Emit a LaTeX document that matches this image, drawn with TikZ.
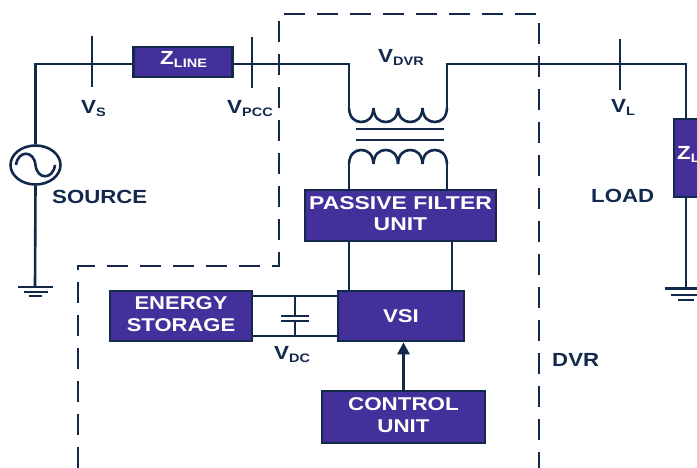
\documentclass[tikz,border=0pt]{standalone}
\usepackage{fontspec}
\setmainfont{Liberation Sans}
\usetikzlibrary{arrows.meta,shapes.geometric}
\definecolor{navy}{HTML}{12294B}
\definecolor{violet}{HTML}{44309A}
\newcommand{\boxtext}[2][1.23]{\raisebox{3pt}{\scalebox{#1}[1]{\fontsize{18.5}{21.5}\selectfont\bfseries\begin{tabular}{@{}c@{}}#2\end{tabular}}}}
\newcommand{\symb}[2]{\scalebox{1.18}[1]{\bfseries\fontsize{19}{19}\selectfont #1\raisebox{-3pt}{\fontsize{12.3}{12.3}\selectfont #2}}}
\newcommand{\plain}[1]{\scalebox{1.17}[1]{\bfseries\fontsize{19}{19}\selectfont #1}}
\tikzset{
  x=1pt,y=-1pt,
  wire/.style={draw=navy,line width=2.6pt},
  thin wire/.style={draw=navy,line width=2.1pt},
  unit/.style={draw=navy,line width=2.8pt,fill=violet,text=white,inner sep=0pt,align=center},
  lab/.style={text=navy,inner sep=0pt,anchor=base west},
  whitelab/.style={text=white,inner sep=0pt,anchor=base west},
  border/.style={draw=navy,line width=2.7pt,dash pattern=on 21pt off 12pt},
}
\begin{document}
\begin{tikzpicture}
\useasboundingbox (0,0) rectangle (697,468);
\clip (0,0) rectangle (697,468);
% named points
\coordinate (corner) at (35,64);
\coordinate (pri L) at (349,64);
\coordinate (pri R) at (447,64);
\coordinate (corner R) at (686,64);
\coordinate (gnd L) at (35,287);
\coordinate (gnd R) at (686,288);
\coordinate (coil1 L) at (349,108);
\coordinate (coil1 R) at (447,108);
\coordinate (coil2 L) at (349,164);
\coordinate (coil2 R) at (447,164);
% boxes
\node[unit,minimum width=98.5pt,minimum height=30pt] (zline) at (183,62) {};
\node[unit,minimum width=46pt,minimum height=78pt] (zload) at (697,158) {};
\node[unit,minimum width=191pt,minimum height=51pt] (filter) at (400.5,215.5) {\boxtext[1.24]{PASSIVE FILTER\\UNIT}};
\node[unit,minimum width=126pt,minimum height=50pt] (vsi) at (401,316) {\scalebox{1.2}[1]{\fontsize{18.5}{18.5}\selectfont\bfseries VSI}};
\node[unit,minimum width=142pt,minimum height=50pt] (storage) at (181,316) {\boxtext[1.19]{ENERGY\\STORAGE}};
\node[unit,minimum width=163pt,minimum height=52pt] (control) at (403.5,417) {\boxtext[1.21]{CONTROL\\UNIT}};
% source
\node[draw=navy,line width=2.6pt,ellipse,minimum width=50pt,minimum height=39pt,inner sep=0pt] (src) at (35.5,165) {};
\draw[wire] (16,165) .. controls (18,150) and (34,150) .. (35.5,165) .. controls (37,180) and (53,180) .. (55,165);
% main wiring
\draw[wire] (src.north) -- (src.north |- corner) -- (zline.west |- corner);
\draw[wire] (zline.east |- corner) -- (pri L) -- (coil1 L);
\draw[wire] (coil1 R) -- (pri R) -- (corner R) -- (zload.north -| corner R);
\draw[wire] (src.south) -- (gnd L);
\draw[wire] (zload.south -| corner R) -- (gnd R);
% measuring ticks
\foreach \nm/\xx/\ya/\yb in {vs/92/36/87, vpcc/252/37/88, vl/620/39/90}{
  \coordinate (\nm a) at (\xx,\ya);
  \coordinate (\nm b) at (\xx,\yb);
  \draw[wire] (\nm a) -- (\nm b);
}
% transformer
\foreach \s in {0,24.5,49,73.5}{
  \draw[wire] (349+\s,108) .. controls (349.5+\s,118) and (355+\s,122) .. (361.25+\s,122) .. controls (367.5+\s,122) and (373+\s,118) .. (373.5+\s,108);
  \draw[wire] (349+\s,164) .. controls (349.5+\s,154) and (355+\s,150) .. (361.25+\s,150) .. controls (367.5+\s,150) and (373+\s,154) .. (373.5+\s,164);
}
\coordinate (core1 a) at (356,129);
\coordinate (core1 b) at (444,129);
\coordinate (core2 a) at (356,140);
\coordinate (core2 b) at (444,140);
\draw[wire] (core1 a) -- (core1 b);
\draw[wire] (core2 a) -- (core2 b);
\draw[wire] (coil2 L) -- (coil2 L |- filter.north);
\draw[wire] (coil2 R) -- (coil2 R |- filter.north);
% filter to VSI
\coordinate (f1) at (349,241);
\coordinate (f2) at (452,241);
\draw[wire] (f1) -- (f1 |- vsi.north);
\draw[wire] (f2) -- (f2 |- vsi.north);
% DC link
\coordinate (st top) at (252,296);
\coordinate (st bot) at (252,336);
\coordinate (vsi top) at (338,296);
\coordinate (vsi bot) at (338,336);
\coordinate (cap top) at (295,296);
\coordinate (cap bot) at (295,336);
\coordinate (plate1) at (295,316);
\coordinate (plate2) at (295,321);
\draw[thin wire] (st top) -- (vsi top);
\draw[thin wire] (st bot) -- (vsi bot);
\draw[thin wire] (cap top) -- (plate1);
\draw[thin wire] (plate2) -- (cap bot);
\draw[thin wire] (281,316) -- (309,316);
\draw[thin wire] (281,321) -- (309,321);
% control arrow
\draw[wire,line width=2.8pt,-{Triangle[length=12pt,width=12pt]}] (control.north) -- (control.north |- vsi.south);
% grounds
\draw[thin wire] (18,287) -- (53,287);
\draw[thin wire] (24,292) -- (48,292);
\draw[thin wire] (29,296) -- (42,296);
\draw[thin wire] (665,288.5) -- (707,288.5);
\draw[thin wire] (671,295) -- (701,295);
\draw[thin wire] (678,300) -- (694,300);
% DVR boundary
\draw[border] (78,468) -- (78,266) -- (279,266) -- (279,14) -- (539,14) -- (539,468);
% labels
\node[whitelab] (zl1) at (160,65) {\scalebox{1.18}[1]{\bfseries\fontsize{19}{19}\selectfont Z\raisebox{-3pt}{\fontsize{12.3}{12.3}\selectfont LINE}}};
\node[whitelab] (zl2) at (677,160) {\scalebox{1.18}[1]{\bfseries\fontsize{19}{19}\selectfont Z\raisebox{-3pt}{\fontsize{12.3}{12.3}\selectfont L}}};
\node[lab] (tvs) at (81,114) {\symb{V}{S}};
\node[lab] (tvpcc) at (227,114) {\symb{V}{PCC}};
\node[lab] (tvdvr) at (378,63) {\symb{V}{DVR}};
\node[lab] (tvl) at (611,113) {\symb{V}{L}};
\node[lab] (tvdc) at (274,359) {\symb{V}{DC}};
\node[lab] (tsrc) at (52,204) {\plain{SOURCE}};
\node[lab] (tload) at (591,203) {\plain{LOAD}};
\node[lab] (tdvr) at (552,366) {\plain{DVR}};
\end{tikzpicture}
\end{document}
